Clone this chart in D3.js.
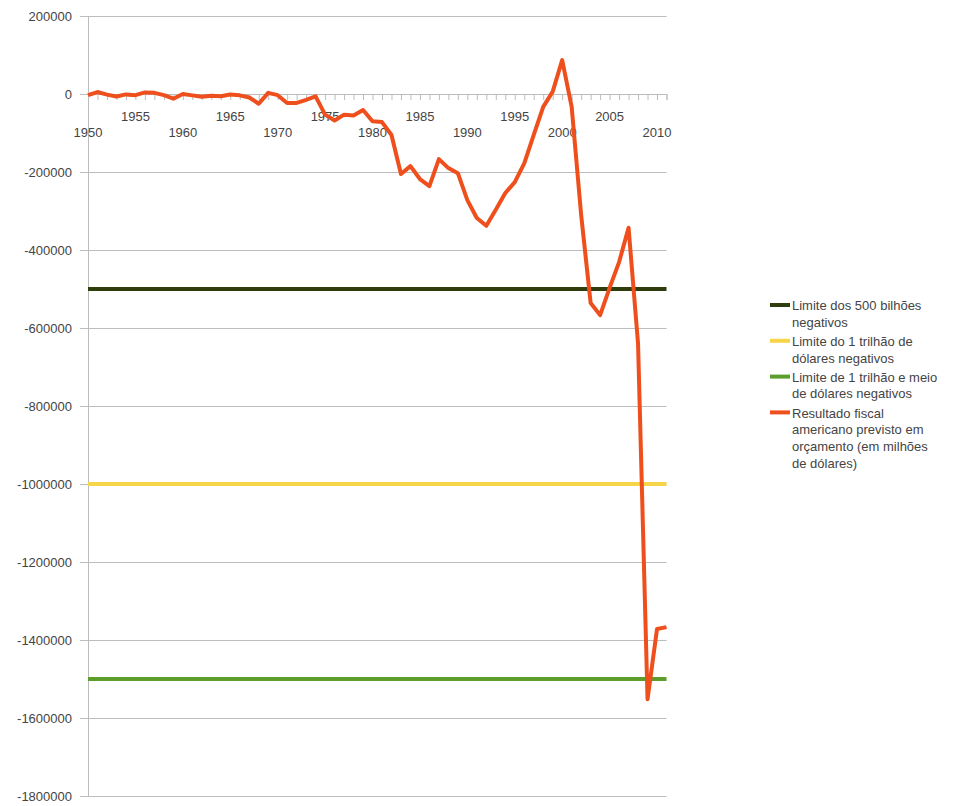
<!DOCTYPE html>
<html>
<head>
<meta charset="utf-8">
<script src="https://cdn.jsdelivr.net/npm/d3@7"></script>
<style>
  body { margin: 0; background: #fff; }
  text { font-family: "Liberation Sans", Arial, sans-serif; }
</style>
</head>
<body>
<div id="root"></div>
<script>
// years on the x axis
var years = d3.range(1950, 2012);

// budget result per year (millions of dollars)
var resultValues = [
    -3000, 5000, -1500, -6500, -1000, -3000, 4000, 3000, -3000, -12000,
    0, -3500, -7000, -4500, -6000, -1500, -3500, -9000, -25000, 3000,
    -3000, -23000, -23000, -15000, -6000, -53000, -68000, -53000, -55000, -41000,
    -70000, -72000, -105000, -205000, -185000, -218000, -236000, -167000, -190000, -203000,
    -272000, -318000, -338000, -297000, -254000, -226000, -178000, -105000, -33000, 6000,
    87000, -33000, -310000, -536000, -567000, -497000, -431000, -343000, -640000, -1552000,
    -1372000, -1367000
];

// constant limit series
var limitValues = [-500000, -1000000, -1500000];

var seriesNames = [
    ["Limite dos 500 bilhões", "negativos"],
    ["Limite do 1 trilhão de", "dólares negativos"],
    ["Limite de 1 trilhão e meio", "de dólares negativos"],
    ["Resultado fiscal", "americano previsto em", "orçamento (em milhões", "de dólares)"]
];
var seriesColors = ["#2f3d0c", "#f6d548", "#5b9e2b", "#ee4f1c"];

var yTicks = d3.range(-1800000, 200001, 200000);
var xLabelYears = d3.range(1950, 2011, 5);

var margin = {top: 16, left: 88};
var width = 578.5, height = 780;

var svg = d3.select("#root").append("svg")
    .attr("width", 961)
    .attr("height", 806)
    .append("g")
    .attr("transform", "translate(" + margin.left + "," + margin.top + ")");

var x = d3.scaleLinear().domain([1950, 2011]).range([0, width]);
var y = d3.scaleLinear().domain([-1800000, 200000]).range([height, 0]);

//horizontal grid lines
var grid = svg.append("g")
    .call(d3.axisLeft(y).tickValues(yTicks).tickSize(-width).tickFormat(""));
grid.select(".domain").remove();
grid.selectAll("line").attr("stroke", "#bdbdbd");

//y axis with labels
var gy = svg.append("g")
    .call(d3.axisLeft(y).tickValues(yTicks).tickSize(8).tickPadding(8)
        .tickFormat(function (d) { return String(d); }));
gy.select(".domain").attr("stroke", "#bdbdbd");
gy.selectAll("line").attr("stroke", "#bdbdbd");
gy.selectAll("text")
    .attr("font-size", 13)
    .attr("fill", "#444")
    .style("font-family", "'Liberation Sans', Arial, sans-serif");

//x axis sits on the zero line, a tick for every year
var gx = svg.append("g")
    .attr("transform", "translate(0," + y(0) + ")")
    .call(d3.axisBottom(x).tickValues(years).tickSize(6).tickFormat(""));
gx.select(".domain").attr("stroke", "#bdbdbd");
gx.selectAll("line").attr("stroke", "#bdbdbd");

//staggered year labels
svg.append("g").selectAll("text")
    .data(xLabelYears)
    .enter()
    .append("text")
    .attr("x", function (d) { return x(d); })
    .attr("y", function (d, i) { return y(0) + (i % 2 === 0 ? 43 : 27); })
    .attr("text-anchor", "middle")
    .attr("font-size", 13)
    .attr("fill", "#444")
    .text(function (d) { return d; });

//limit lines
svg.selectAll(".limit")
    .data(limitValues)
    .enter()
    .append("line")
    .attr("class", "limit")
    .attr("x1", x(years[0]))
    .attr("x2", x(years[years.length - 1]))
    .attr("y1", function (d) { return y(d); })
    .attr("y2", function (d) { return y(d); })
    .attr("stroke", function (d, i) { return seriesColors[i]; })
    .attr("stroke-width", 4);

//result line
var line = d3.line()
    .x(function (d, i) { return x(years[i]); })
    .y(function (d) { return y(d); });

svg.append("path")
    .datum(resultValues)
    .attr("fill", "none")
    .attr("stroke", seriesColors[3])
    .attr("stroke-width", 4)
    .attr("stroke-linejoin", "round")
    .attr("d", line);

//legend
var legend = d3.select("svg").append("g")
    .attr("transform", "translate(770,305)");
var lineH = 16.7, offset = 0;
seriesNames.forEach(function (lines, i) {
    var g = legend.append("g").attr("transform", "translate(0," + offset + ")");
    g.append("line")
        .attr("x1", 0).attr("x2", 20)
        .attr("y1", 0).attr("y2", 0)
        .attr("stroke", seriesColors[i])
        .attr("stroke-width", 4);
    g.append("text")
        .attr("x", 22)
        .attr("y", 0)
        .attr("font-size", 13)
        .attr("fill", "#444")
        .selectAll("tspan")
        .data(lines)
        .enter()
        .append("tspan")
        .attr("x", 22)
        .attr("dy", function (d, j) { return j === 0 ? "0.4em" : lineH; })
        .text(function (d) { return d; });
    offset += lines.length * lineH + 2.4;
});
</script>
</body>
</html>
